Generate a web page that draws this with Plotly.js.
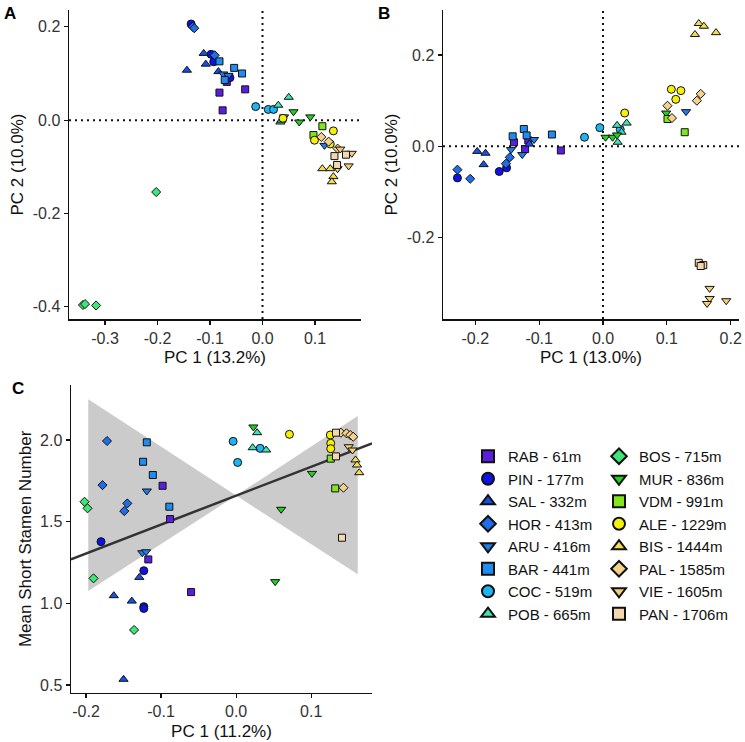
<!DOCTYPE html>
<html><head><meta charset="utf-8">
<script src="https://cdn.plot.ly/plotly-3.0.1.min.js"></script>
<style>html,body{margin:0;padding:0;background:#fff}#chart{width:745px;height:742px}</style>
</head><body><div id="chart"></div>
<script>
// ---------- DATA ----------
const siteCodes = ["RAB","PIN","SAL","HOR","ARU","BAR","COC","POB","BOS","MUR","VDM","ALE","BIS","PAL","VIE","PAN"];
const siteElev  = [61,177,332,413,416,441,519,665,715,836,991,1229,1444,1585,1605,1706];

// Panel A: PC1 (13.2%) vs PC2 (10.0%)
const aSite = ["RAB","RAB","RAB","RAB",
  "PIN","PIN","PIN","PIN",
  "SAL","SAL","SAL","SAL",
  "HOR","HOR","HOR",
  "ARU","ARU","ARU",
  "BAR","BAR","BAR","BAR",
  "COC","COC","COC",
  "POB","POB","POB","POB",
  "BOS","BOS","BOS","BOS",
  "MUR","MUR","MUR","MUR",
  "VDM","VDM",
  "ALE","ALE","ALE","ALE",
  "BIS","BIS","BIS","BIS",
  "PAL","PAL","PAL",
  "VIE","VIE","VIE","VIE",
  "PAN","PAN","PAN"];
const aX = [-0.068,-0.082,-0.076,-0.033,
  -0.136,-0.098,-0.093,-0.062,
  -0.144,-0.112,-0.108,-0.084,
  -0.133,-0.130,-0.091,
  -0.075,-0.065,0.118,
  -0.082,-0.054,-0.039,-0.072,
  -0.013,0.011,0.021,
  0.030,0.050,0.034,0.036,
  -0.2025,-0.342,-0.338,-0.317,
  0.041,0.059,0.070,0.091,
  0.114,0.097,
  0.039,0.135,0.099,0.129,
  0.114,0.129,0.135,0.132,
  0.112,0.126,0.143,
  0.148,0.170,0.164,0.143,
  0.137,0.159,0.142];
const aY = [0.082,0.059,0.021,0.066,
  0.206,0.141,0.125,0.091,
  0.107,0.143,0.120,0.104,
  0.200,0.197,0.139,
  0.099,0.096,-0.054,
  0.126,0.112,0.100,0.086,
  0.029,0.023,0.023,
  0.032,0.049,-0.004,0.000,
  -0.154,-0.396,-0.394,-0.397,
  0.007,0.018,-0.004,0.007,
  -0.013,-0.032,
  0.004,-0.023,-0.043,-0.051,
  -0.104,-0.104,-0.121,-0.132,
  -0.036,-0.046,-0.061,
  -0.062,-0.071,-0.098,-0.104,
  -0.077,-0.074,-0.096];

// Panel B: PC1 (13.0%) vs PC2 (10.0%)
const bSite = ["RAB","RAB","RAB","RAB",
  "PIN","PIN","PIN",
  "SAL","SAL","SAL","SAL",
  "HOR","HOR","HOR","HOR",
  "ARU","ARU","ARU","ARU",
  "BAR","BAR","BAR","BAR",
  "COC","COC","COC",
  "POB","POB","POB","POB",
  "MUR","MUR","MUR","MUR",
  "VDM","VDM",
  "ALE","ALE","ALE","ALE",
  "BIS","BIS","BIS","BIS",
  "PAL","PAL","PAL","PAL",
  "VIE","VIE","VIE","VIE",
  "PAN","PAN","PAN"];
const bX = [-0.1395,-0.122,-0.117,-0.066,
  -0.228,-0.1625,-0.151,
  -0.197,-0.184,-0.187,-0.1155,
  -0.228,-0.208,-0.152,-0.146,
  -0.144,-0.1265,-0.108,0.130,
  -0.1415,-0.124,-0.1196,-0.080,
  -0.029,-0.005,0.027,
  0.022,0.037,0.029,0.023,
  0.004,0.015,0.022,0.099,
  0.101,0.128,
  0.034,0.107,0.122,0.114,
  0.150,0.158,0.144,0.177,
  0.101,0.147,0.153,0.108,
  0.167,0.167,0.163,0.193,
  0.150,0.157,0.153];
const bY = [0.009,-0.006,0.013,-0.009,
  -0.069,-0.055,-0.047,
  -0.011,-0.015,-0.040,0.005,
  -0.051,-0.071,-0.038,-0.024,
  -0.007,-0.018,0.015,0.076,
  0.022,0.038,0.024,0.026,
  0.020,0.041,0.037,
  0.046,0.051,0.031,0.009,
  0.020,0.020,0.025,0.073,
  0.060,0.031,
  0.073,0.125,0.122,0.103,
  0.269,0.263,0.245,0.249,
  0.089,0.100,0.115,0.062,
  -0.311,-0.333,-0.344,-0.338,
  -0.255,-0.260,-0.262];

// Panel C: PC1 (11.2%) vs Mean Short Stamen Number
const cSite = ["RAB","RAB","RAB","RAB",
  "PIN","PIN","PIN","PIN",
  "SAL","SAL","SAL","SAL",
  "HOR","HOR","HOR","HOR",
  "ARU","ARU","ARU",
  "BAR","BAR","BAR","BAR",
  "COC","COC","COC",
  "POB","POB","POB",
  "BOS","BOS","BOS","BOS",
  "MUR","MUR","MUR","MUR",
  "VDM","VDM",
  "ALE","ALE","ALE","ALE",
  "BIS","BIS","BIS",
  "PAL","PAL","PAL","PAL","PAL",
  "VIE","VIE",
  "PAN","PAN","PAN"];
const cX = [-0.098,-0.088,-0.117,-0.060,
  -0.180,-0.123,-0.123,-0.123,
  -0.129,-0.163,-0.139,-0.150,
  -0.172,-0.178,-0.145,-0.149,
  -0.119,-0.125,-0.120,
  -0.119,-0.124,-0.111,-0.089,
  -0.004,0.002,0.032,
  0.028,0.022,0.040,
  -0.202,-0.198,-0.190,-0.136,
  0.023,0.101,0.060,0.052,
  0.126,0.132,
  0.071,0.1255,0.126,0.126,
  0.159,0.161,0.164,
  0.1396,0.147,0.152,0.156,0.143,
  0.150,0.155,
  0.133,0.133,0.141];
const cY = [1.720,1.516,1.269,1.069,
  1.378,1.200,0.980,0.969,
  1.159,1.047,1.014,0.535,
  1.994,1.724,1.612,1.565,
  1.688,1.310,1.316,
  1.986,1.867,1.786,1.592,
  1.992,1.863,1.949,
  2.045,1.953,1.939,
  1.622,1.582,1.153,0.837,
  2.080,1.796,1.576,1.133,
  1.886,1.704,
  2.035,2.031,1.980,1.947,
  1.878,1.847,1.800,
  2.045,2.041,2.031,2.020,1.708,
  1.959,1.939,
  2.045,1.900,1.402];

// Panel C regression line and confidence ribbon
const fitX = [-0.22, 0.181];
const fitY = [1.27, 1.98];
const ribbonX = [-0.197, 0.0, 0.162];
const ribbonUpper = [2.249, 1.66, 2.147];
const ribbonLower = [1.075, 1.66, 1.178];

// Tick labels
const tickA_x = [-0.3,-0.2,-0.1,0.0,0.1], tickA_xText = ["-0.3","-0.2","-0.1","0.0","0.1"];
const tickA_y = [-0.4,-0.2,0.0,0.2], tickA_yText = ["-0.4","-0.2","0.0","0.2"];
const tickB_x = [-0.2,-0.1,0.0,0.1,0.2], tickB_xText = ["-0.2","-0.1","0.0","0.1","0.2"];
const tickB_y = [-0.2,0.0,0.2], tickB_yText = ["-0.2","0.0","0.2"];
const tickC_x = [-0.2,-0.1,0.0,0.1], tickC_xText = ["-0.2","-0.1","0.0","0.1"];
const tickC_y = [0.5,1.0,1.5,2.0], tickC_yText = ["0.5","1.0","1.5","2.0"];

// ---------- STYLE ----------
const siteStyle = {
  RAB:{sym:"square", col:"#5A1EE3"},
  PIN:{sym:"circle", col:"#0D12E6"},
  SAL:{sym:"triangle-up", col:"#1550E8"},
  HOR:{sym:"diamond", col:"#1E6EEB"},
  ARU:{sym:"triangle-down", col:"#1E7CF0"},
  BAR:{sym:"square", col:"#1E8CF0"},
  COC:{sym:"circle", col:"#1EB4F0"},
  POB:{sym:"triangle-up", col:"#3CE6B4"},
  BOS:{sym:"diamond", col:"#3CE678"},
  MUR:{sym:"triangle-down", col:"#1ED21E"},
  VDM:{sym:"square", col:"#82E61E"},
  ALE:{sym:"circle", col:"#F5F00A"},
  BIS:{sym:"triangle-up", col:"#F5DC50"},
  PAL:{sym:"diamond", col:"#F5D28C"},
  VIE:{sym:"triangle-down", col:"#F5CD78"},
  PAN:{sym:"square", col:"#F5D7AF"}
};
const symSize = {"square":7,"circle":8,"diamond":7,"triangle-up":8,"triangle-down":8};
const FONT = "Liberation Sans, Arial, sans-serif";

const traces = [];
// ribbon + fit line (panel C)
traces.push({
  x: ribbonX.concat(ribbonX.slice().reverse()),
  y: ribbonUpper.concat(ribbonLower.slice().reverse()),
  xaxis:"x3", yaxis:"y3", type:"scatter", mode:"lines",
  fill:"toself", fillcolor:"rgba(190,190,190,0.8)", line:{width:0},
  hoverinfo:"skip", showlegend:false
});
traces.push({
  x: fitX, y: fitY, xaxis:"x3", yaxis:"y3", type:"scatter", mode:"lines",
  line:{color:"#333333", width:2.5}, hoverinfo:"skip", showlegend:false
});

function addPanel(sites, xs, ys, xa, ya, legendOn){
  siteCodes.forEach((s, i) => {
    const px = [], py = [];
    sites.forEach((ss, k) => { if (ss === s) { px.push(xs[k]); py.push(ys[k]); } });
    const st = siteStyle[s];
    traces.push({
      x: px, y: py, xaxis: xa, yaxis: ya, type:"scatter", mode:"markers",
      name: s + " - " + siteElev[i] + "m", legendgroup: s,
      legend: i < 8 ? "legend" : "legend2",
      showlegend: legendOn,
      marker:{symbol: st.sym, color: st.col, size: symSize[st.sym], line:{color:"#111", width:1}}
    });
  });
}
addPanel(aSite, aX, aY, "x", "y", true);
addPanel(bSite, bX, bY, "x2", "y2", false);
addPanel(cSite, cX, cY, "x3", "y3", false);

function ax(extra){
  return Object.assign({
    showline:true, linecolor:"#111", linewidth:1.5, mirror:false,
    ticks:"outside", ticklen:4, tickwidth:1.2, tickcolor:"#111",
    showgrid:false, zeroline:false, tickmode:"array",
    tickfont:{family:FONT, size:16, color:"#333"}
  }, extra);
}
function ttl(t, standoff){ return {text:t, font:{family:FONT, size:17, color:"#111"}, standoff:standoff}; }

const W = 745, H = 742;
const layout = {
  width: W, height: H, margin:{l:0,r:0,t:0,b:0},
  paper_bgcolor:"#fff", plot_bgcolor:"#fff", showlegend:true,
  xaxis: ax({domain:[69/W, 361/W], range:[-0.3686,0.1876], anchor:"y",
    tickvals:tickA_x, ticktext:tickA_xText, title:ttl("PC 1 (13.2%)",5)}),
  yaxis: ax({domain:[1-319/H, 1-10/H], range:[-0.426,0.236], anchor:"x",
    tickvals:tickA_y, ticktext:tickA_yText, title:ttl("PC 2 (10.0%)",5)}),
  xaxis2: ax({domain:[443/W, 739/W], range:[-0.2506,0.213], anchor:"y2",
    tickvals:tickB_x, ticktext:tickB_xText, title:ttl("PC 1 (13.0%)",5)}),
  yaxis2: ax({domain:[1-319/H, 1-10/H], range:[-0.378,0.2986], anchor:"x2",
    tickvals:tickB_y, ticktext:tickB_yText, title:ttl("PC 2 (10.0%)",5)}),
  xaxis3: ax({domain:[71/W, 372/W], range:[-0.22,0.181], anchor:"y3",
    tickvals:tickC_x, ticktext:tickC_xText, title:ttl("PC 1 (11.2%)",5)}),
  yaxis3: ax({domain:[1-692.7/H, 1-385/H], range:[0.453,2.337], anchor:"x3",
    tickvals:tickC_y, ticktext:tickC_yText, title:ttl("Mean Short Stamen Number",4)}),
  shapes: [
    {type:"line", xref:"x", yref:"y domain", x0:0, x1:0, y0:0, y1:1, layer:"below", line:{color:"#111", width:2, dash:"2px,4px"}},
    {type:"line", xref:"x domain", yref:"y", x0:0, x1:1, y0:0, y1:0, layer:"below", line:{color:"#111", width:2, dash:"2px,4px"}},
    {type:"line", xref:"x2", yref:"y2 domain", x0:0, x1:0, y0:0, y1:1, layer:"below", line:{color:"#111", width:2, dash:"2px,4px"}},
    {type:"line", xref:"x2 domain", yref:"y2", x0:0, x1:1, y0:0, y1:0, layer:"below", line:{color:"#111", width:2, dash:"2px,4px"}}
  ],
  annotations: [
    {text:"<b>A</b>", xref:"paper", yref:"paper", x:2/W, y:1-2/H, xanchor:"left", yanchor:"top", showarrow:false, font:{family:FONT, size:17, color:"#000"}},
    {text:"<b>B</b>", xref:"paper", yref:"paper", x:376/W, y:1-2/H, xanchor:"left", yanchor:"top", showarrow:false, font:{family:FONT, size:17, color:"#000"}},
    {text:"<b>C</b>", xref:"paper", yref:"paper", x:10/W, y:1-377/H, xanchor:"left", yanchor:"top", showarrow:false, font:{family:FONT, size:17, color:"#000"}}
  ],
  legend: {x:468/W, y:1-440/H, xanchor:"left", yanchor:"top", itemsizing:"constant",
    font:{family:FONT, size:15, color:"#111"}, bgcolor:"rgba(0,0,0,0)", tracegroupgap:0},
  legend2: {x:599/W, y:1-440/H, xanchor:"left", yanchor:"top", itemsizing:"constant",
    font:{family:FONT, size:15, color:"#111"}, bgcolor:"rgba(0,0,0,0)", tracegroupgap:0}
};

Plotly.newPlot("chart", traces, layout, {staticPlot:true, displayModeBar:false});
</script>
</body></html>
